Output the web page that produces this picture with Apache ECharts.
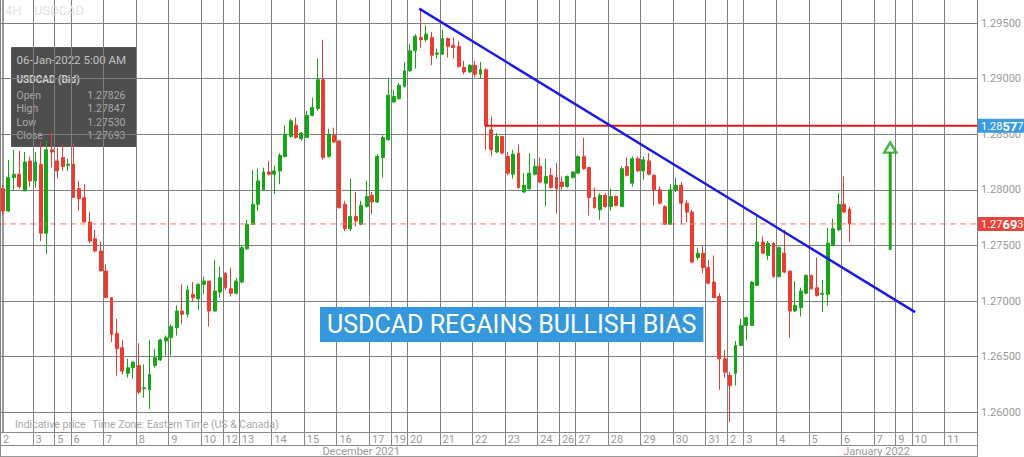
<!DOCTYPE html>
<html><head><meta charset="utf-8">
<script src="https://cdn.jsdelivr.net/npm/echarts@6/dist/echarts.min.js"></script>
<style>html,body{margin:0;padding:0;background:#fff}#c{width:1024px;height:457px}</style>
</head><body><div id="c"></div>
<script>
// ---- session structure (4H candles per day) ----
const decDays = [2,3,5,6,7,8,9,10,12,13,14,15,16,17,19,20,21,22,23,24,26,27,28,29,30,31];
const decCounts = [6,4,3,6,6,6,6,4,3,6,6,6,6,4,3,6,6,6,6,4,3,6,6,6,6,4];
const janDays = [2,3,4,5,6,7,9,10,11];
const janCounts = [3,6,6,6,6,4,3,6,6];
const monthLabels = ['December 2021', 'January 2022'];
const monthLabelSlot = [66, 161];

// ---- OHLC ----
const opens = [1.2801,1.2781,1.2811,1.2814,1.2799,1.2826,1.2808,1.2823,1.2761,1.2836,
1.2826,1.2829,1.2822,1.2823,1.2801,1.2793,1.2771,1.2756,1.2745,1.2727,
1.2703,1.2671,1.2658,1.2635,1.2640,1.2642,1.2621,1.2620,1.2642,1.2647,
1.2664,1.2667,1.2676,1.2691,1.2688,1.2706,1.2702,1.2715,1.2718,1.2691,
1.2708,1.2725,1.2711,1.2707,1.2717,1.2747,1.2769,1.2787,1.2800,1.2816,
1.2814,1.2817,1.2830,1.2848,1.2858,1.2846,1.2847,1.2867,1.2873,1.2899,
1.2830,1.2849,1.2844,1.2787,1.2765,1.2776,1.2769,1.2785,1.2795,1.2789,
1.2829,1.2845,1.2879,1.2882,1.2893,1.2907,1.2925,1.2937,1.2935,1.2937,
1.2922,1.2922,1.2936,1.2930,1.2929,1.2910,1.2906,1.2912,1.2904,1.2908,
1.2854,1.2834,1.2848,1.2830,1.2814,1.2833,1.2798,1.2801,1.2814,1.2821,
1.2806,1.2813,1.2811,1.2807,1.2803,1.2811,1.2815,1.2830,1.2820,1.2793,
1.2782,1.2795,1.2785,1.2794,1.2785,1.2821,1.2806,1.2828,1.2817,1.2826,
1.2813,1.2800,1.2785,1.2769,1.2800,1.2804,1.2788,1.2780,1.2739,1.2743,
1.2730,1.2717,1.2704,1.2648,1.2633,1.2635,1.2660,1.2678,1.2678,1.2714,
1.2753,1.2741,1.2752,1.2722,1.2743,1.2727,1.2691,1.2694,1.2707,1.2723,
1.2712,1.2706,1.2706,1.2750,1.2764,1.2787,1.27826];
const closes = [1.2781,1.2811,1.2814,1.2803,1.2825,1.2808,1.2825,1.2761,1.2836,1.2834,
1.2817,1.2821,1.2823,1.2793,1.2792,1.2771,1.2754,1.2745,1.2727,1.2703,
1.2670,1.2657,1.2637,1.2640,1.2645,1.2618,1.2622,1.2634,1.2649,1.2665,
1.2667,1.2677,1.2691,1.2688,1.2710,1.2703,1.2715,1.2718,1.2691,1.2709,
1.2721,1.2712,1.2707,1.2718,1.2748,1.2769,1.2787,1.2808,1.2816,1.2814,
1.2817,1.2831,1.2850,1.2862,1.2847,1.2851,1.2867,1.2874,1.2899,1.2829,
1.2850,1.2843,1.2784,1.2765,1.2776,1.2772,1.2786,1.2794,1.2789,1.2830,
1.2847,1.2885,1.2884,1.2894,1.2907,1.2925,1.2938,1.2935,1.2940,1.2921,
1.2923,1.2936,1.2929,1.2928,1.2911,1.2906,1.2912,1.2904,1.2908,1.28577,
1.2836,1.2848,1.2833,1.2815,1.2832,1.2802,1.2804,1.2815,1.2821,1.2807,
1.2812,1.2802,1.2801,1.2803,1.2812,1.2816,1.2830,1.2819,1.2793,1.2784,
1.2795,1.2785,1.2794,1.2786,1.2819,1.2813,1.2828,1.2817,1.2827,1.2814,
1.2800,1.2788,1.2769,1.2800,1.2804,1.2788,1.2780,1.2735,1.2743,1.2730,
1.2716,1.2703,1.2648,1.2636,1.2624,1.2660,1.2678,1.2685,1.2717,1.2753,
1.2743,1.2752,1.2722,1.2748,1.2726,1.2691,1.2696,1.2709,1.2723,1.2711,
1.2705,1.2707,1.2752,1.2765,1.2787,1.2780,1.27693];
const lows = [1.2777,1.2780,1.2799,1.2801,1.2799,1.2803,1.2802,1.2754,1.2742,1.2820,
1.2810,1.2817,1.2817,1.2793,1.2781,1.2771,1.2752,1.2744,1.2727,1.2703,
1.2663,1.2633,1.2634,1.2631,1.2630,1.2616,1.2613,1.2603,1.2640,1.2646,
1.2651,1.2651,1.2669,1.2679,1.2685,1.2700,1.2692,1.2706,1.2677,1.2690,
1.2703,1.2710,1.2704,1.2706,1.2716,1.2746,1.2769,1.2781,1.2800,1.2813,
1.2796,1.2805,1.2829,1.2847,1.2846,1.2844,1.2847,1.2866,1.2871,1.2827,
1.2829,1.2842,1.2783,1.2763,1.2763,1.2767,1.2768,1.2784,1.2778,1.2788,
1.2811,1.2844,1.2878,1.2881,1.2892,1.2906,1.2909,1.2928,1.2933,1.2912,
1.2918,1.2921,1.2919,1.2918,1.2910,1.2904,1.2905,1.2901,1.2900,1.2836,
1.2830,1.2833,1.2832,1.2813,1.2810,1.2801,1.2797,1.2800,1.2813,1.2806,
1.2785,1.2801,1.2779,1.2800,1.2802,1.2810,1.2814,1.2818,1.2777,1.2783,
1.2773,1.2784,1.2781,1.2785,1.2785,1.2812,1.2803,1.2816,1.2809,1.2813,
1.2786,1.2787,1.2769,1.2769,1.2798,1.2769,1.2771,1.2734,1.2737,1.2725,
1.2715,1.2703,1.2620,1.2631,1.2591,1.2624,1.2660,1.2665,1.2678,1.2714,
1.2742,1.2737,1.2721,1.2721,1.2725,1.2667,1.2690,1.2686,1.2706,1.2710,
1.2704,1.2690,1.2696,1.2750,1.2763,1.2779,1.27530];
const highs = [1.2804,1.2827,1.2836,1.2835,1.2834,1.2830,1.2834,1.2843,1.2844,1.2852,
1.2838,1.2841,1.2828,1.2842,1.2808,1.2805,1.2780,1.2764,1.2753,1.2733,
1.2703,1.2684,1.2665,1.2648,1.2646,1.2662,1.2643,1.2665,1.2657,1.2666,
1.2669,1.2679,1.2696,1.2715,1.2714,1.2717,1.2716,1.2722,1.2718,1.2737,
1.2731,1.2726,1.2730,1.2721,1.2750,1.2773,1.2818,1.2819,1.2820,1.2826,
1.2822,1.2833,1.2858,1.2864,1.2865,1.2852,1.2871,1.2883,1.2918,1.2935,
1.2855,1.2856,1.2845,1.2790,1.2810,1.2798,1.2790,1.2808,1.2798,1.2832,
1.2849,1.2901,1.2890,1.2896,1.2915,1.2931,1.2940,1.2963,1.2948,1.2942,
1.2927,1.2944,1.2937,1.2937,1.2934,1.2916,1.2913,1.2916,1.2915,1.2909,
1.2866,1.2851,1.2848,1.2834,1.2836,1.2841,1.2815,1.2833,1.2828,1.2829,
1.2828,1.2820,1.2824,1.2812,1.2813,1.2817,1.2831,1.2847,1.2820,1.2802,
1.2797,1.2797,1.2801,1.2795,1.2821,1.2829,1.2830,1.2830,1.2830,1.2833,
1.2814,1.2803,1.2786,1.2805,1.2811,1.2807,1.2791,1.2782,1.2748,1.2750,
1.2737,1.2741,1.2707,1.2656,1.2636,1.2664,1.2684,1.2686,1.2718,1.2777,
1.2758,1.2754,1.2753,1.2749,1.2764,1.2727,1.2718,1.2712,1.2724,1.2724,
1.2739,1.2719,1.2766,1.2774,1.2797,1.2812,1.27847];

// ---- annotations ----
const resistanceLevel = 1.28577;
const resistanceStartSlot = 88.8;
const trendX = [76.7, 168.1];
const trendY = [1.2963, 1.2690];
const arrowX = 163.5;
const arrowY = [1.2746, 1.2834];
const arrowHeadY = 1.2838;
const lastTime = '06-Jan-2022 5:00 AM';
const symbolName = 'USDCAD';
const bannerText = 'USDCAD REGAINS BULLISH BIAS';

// ---- build categories ----
const cats = [];
const dayStart = {};
function addMonth(days, counts, mon) {
  days.forEach((d, i) => {
    dayStart[cats.length] = String(d);
    for (let k = 0; k < counts[i]; k++) cats.push(mon + ' ' + d + ' #' + (k + 1));
  });
}
addMonth(decDays, decCounts, 'Dec');
const janStart = cats.length;
addMonth(janDays, janCounts, 'Jan');
const xMax = cats.length - 0.5;

const candles = opens.map((o, i) => [o, closes[i], lows[i], highs[i]]);
const last = opens.length - 1;
const lastClose = closes[last];

const GRID = '#7e7e7e';
const LBL = '#9a9a9a';
const GREEN = '#17a617';
const RED = '#ec3b30';

function priceTag(v) {
  const s = v.toFixed(5);
  return '{a|' + s.slice(0, 4) + '}{b|' + s.slice(4, 6) + '}{a|' + s.slice(6) + '}';
}
const tagRich = {
  a: { fontSize: 11, color: '#fff', fontFamily: 'Roboto' },
  b: { fontSize: 13, color: '#fff', fontWeight: 'bold', fontFamily: 'Roboto' }
};

const isDay = (i) => Object.prototype.hasOwnProperty.call(dayStart, i);

const chart = echarts.init(document.getElementById('c'), null, { renderer: 'svg' });
const infoRows = [['Open', opens[last]], ['High', highs[last]], ['Low', lows[last]], ['Close', closes[last]]];
const infoChildren = [
  { type: 'rect', shape: { x: 0, y: 0, width: 125, height: 99 }, style: { fill: 'rgba(42,42,42,0.83)', stroke: 'rgba(80,80,80,0.9)', lineWidth: 1 } },
  { type: 'text', x: 5, y: 6, style: { text: lastTime, fill: '#c2c2c2', fontSize: 11.5, fontFamily: 'Roboto' } },
  { type: 'text', x: 5, y: 27, style: { text: symbolName + ' (Bid)', fill: '#cfcfcf', fontSize: 10, fontWeight: 'bold', fontFamily: 'Roboto' } }
];
infoRows.forEach((r, k) => {
  infoChildren.push({ type: 'text', x: 5, y: 42 + k * 13.6, style: { text: r[0], fill: '#a8a8a8', fontSize: 10.5, fontFamily: 'Roboto' } });
  infoChildren.push({ type: 'text', x: 114, y: 42 + k * 13.6, style: { text: r[1].toFixed(5), fill: '#a8a8a8', fontSize: 10.5, fontFamily: 'Roboto', align: 'right' } });
});

chart.setOption({
  animation: false,
  backgroundColor: '#fff',
  textStyle: { fontFamily: 'Roboto' },
  title: {
    text: bannerText, left: 320, top: 307,
    backgroundColor: '#3498db', padding: [3, 7, 3, 7],
    textStyle: { color: '#fff', fontSize: 25, fontWeight: 'normal', fontFamily: 'Roboto', lineHeight: 29 }
  },
  grid: { left: 0, right: 44, top: 0, bottom: 25, containLabel: false },
  xAxis: [
    {
      type: 'category', data: cats, boundaryGap: true, position: 'bottom',
      axisLine: { show: true, lineStyle: { color: '#888' } },
      axisTick: { show: true, length: 13, interval: isDay, lineStyle: { color: '#888' } },
      axisLabel: { interval: isDay, formatter: (v, i) => dayStart[i], align: 'left', margin: 2, color: LBL, fontSize: 11 },
      splitLine: { show: true, interval: isDay, lineStyle: { color: GRID, width: 1 } }
    },
    {
      type: 'category', data: cats, boundaryGap: true, position: 'bottom', offset: 13,
      axisLine: { show: true, lineStyle: { color: '#888' } },
      axisTick: { show: true, length: 12, interval: (i) => i === janStart, lineStyle: { color: '#888' } },
      axisLabel: { interval: (i) => monthLabelSlot.includes(i), formatter: (v, i) => monthLabels[monthLabelSlot.indexOf(i)], margin: 1, color: LBL, fontSize: 11 },
      splitLine: { show: false }
    },
    {
      type: 'category', data: cats, boundaryGap: true, position: 'bottom', offset: 24,
      axisLine: { show: true, lineStyle: { color: '#999' } },
      axisTick: { show: false }, axisLabel: { show: false }, splitLine: { show: false }
    },
    { type: 'value', min: -0.5, max: xMax, show: false }
  ],
  yAxis: {
    type: 'value', position: 'right', min: 1.25822, max: 1.29707,
    splitNumber: 8, minInterval: 0.005, maxInterval: 0.005,
    axisLine: { show: true, lineStyle: { color: '#777', width: 1.5 } },
    axisTick: { show: false },
    axisLabel: { color: LBL, fontSize: 11, margin: 4, formatter: (v) => v.toFixed(5), showMinLabel: false, showMaxLabel: false },
    splitLine: { show: true, showMinLine: false, showMaxLine: false, lineStyle: { color: GRID, width: 1 } }
  },
  series: [
    {
      type: 'candlestick', xAxisIndex: 0, yAxisIndex: 0, data: candles, barWidth: 3.4, z: 2,
      itemStyle: { color: GREEN, color0: RED, borderColor: GREEN, borderColor0: RED, borderWidth: 1 }
    },
    {
      type: 'line', xAxisIndex: 3, yAxisIndex: 0, z: 3, silent: true, symbol: 'none',
      data: [[-0.5, lastClose], [xMax, lastClose]],
      lineStyle: { color: '#f07070', width: 1, type: [6, 4] },
      endLabel: { show: true, distance: 1, formatter: () => priceTag(lastClose), backgroundColor: '#e8443a', padding: [1, 3, 0, 3], rich: tagRich }
    },
    {
      type: 'line', xAxisIndex: 3, yAxisIndex: 0, z: 4, silent: true, symbol: 'none',
      data: [[resistanceStartSlot, resistanceLevel], [xMax, resistanceLevel]],
      lineStyle: { color: '#e31a1a', width: 2 },
      endLabel: { show: true, distance: 1, formatter: () => priceTag(resistanceLevel), backgroundColor: '#3c9be0', padding: [1, 3, 0, 3], rich: tagRich }
    },
    {
      type: 'line', xAxisIndex: 3, yAxisIndex: 0, z: 5, silent: true, symbol: 'none',
      data: trendX.map((x, i) => [x, trendY[i]]),
      lineStyle: { color: '#1b1be6', width: 2.5 }
    },
    {
      type: 'line', xAxisIndex: 3, yAxisIndex: 0, z: 5, silent: true, symbol: 'none',
      data: arrowY.map((y) => [arrowX, y]),
      lineStyle: { color: '#1ca61c', width: 3 }
    },
    {
      type: 'scatter', xAxisIndex: 3, yAxisIndex: 0, z: 6, silent: true,
      data: [[arrowX, arrowHeadY]], symbol: 'triangle', symbolSize: [12, 10],
      itemStyle: { color: '#fff', borderColor: '#1ca61c', borderWidth: 2.5 }
    }
  ],
  graphic: [
    { type: 'text', left: 5, top: 4, z: 50, style: { text: '4H', fill: '#e2e2e2', fontSize: 13, fontFamily: 'Roboto' } },
    { type: 'text', left: 34, top: 4, z: 50, style: { text: symbolName, fill: '#e2e2e2', fontSize: 13, fontFamily: 'Roboto' } },
    { type: 'text', left: 15, top: 419, z: 50, style: { text: 'Indicative price', fill: '#a8a8a8', fontSize: 10.5, fontFamily: 'Roboto' } },
    { type: 'text', left: 92, top: 419, z: 50, style: { text: 'Time Zone: Eastern Time (US & Canada)', fill: '#a8a8a8', fontSize: 10.5, fontFamily: 'Roboto' } },
    { type: 'group', left: 11, top: 47, z: 100, children: infoChildren }
  ]
});
</script>
</body></html>
